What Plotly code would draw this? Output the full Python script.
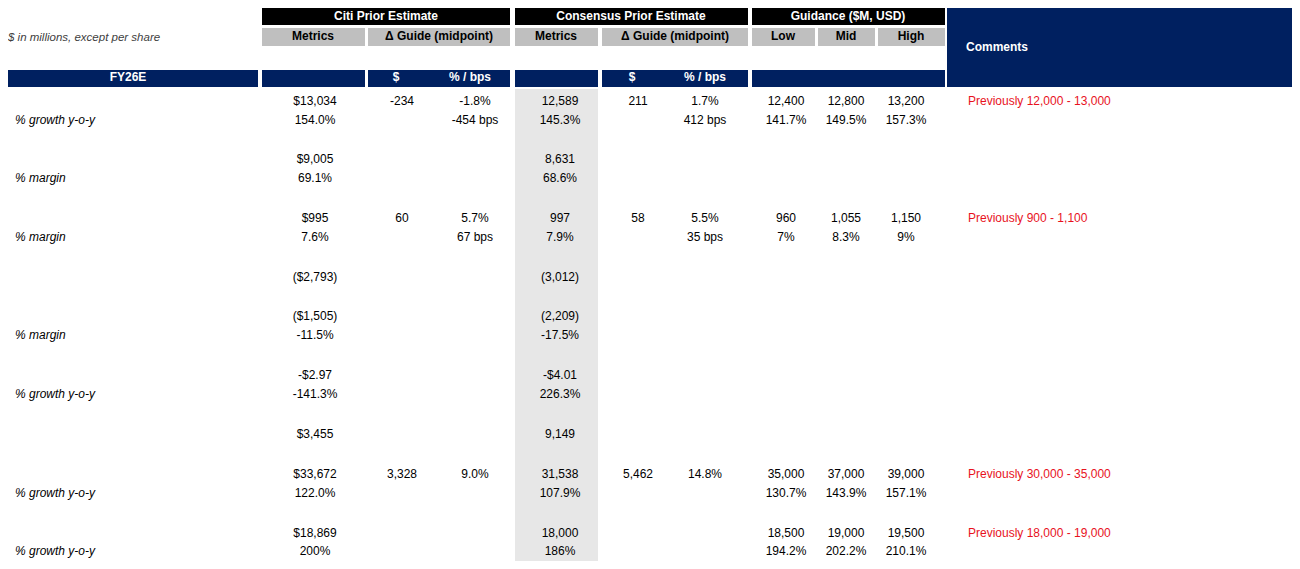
import plotly.graph_objects as go

# row labels and data columns (blank string = empty cell)
labels = ["Revenue", "% growth y-o-y", "Gross Profit", "% margin", "Adj Operating Income", "% margin",
          "Interest Expense", "Net Income", "% margin", "EPS", "% growth y-o-y", "OCF",
          "CapEx (excl CIP)", "% growth y-o-y", "ARR", "% growth y-o-y"]
is_sub = [False, True, False, True, False, True, False, False, True, False, True, False, False, True, False, True]
row_y = [102, 121, 160, 179, 219, 238, 278, 317, 336, 376, 395, 435, 475, 494, 534, 552]

citi_metrics = ["$13,034", "154.0%", "$9,005", "69.1%", "$995", "7.6%", "($2,793)", "($1,505)", "-11.5%",
                "-$2.97", "-141.3%", "$3,455", "$33,672", "122.0%", "$18,869", "200%"]
citi_d = ["-234", "", "", "", "60", "", "", "", "", "", "", "", "3,328", "", "", ""]
citi_pct = ["-1.8%", "-454 bps", "", "", "5.7%", "67 bps", "", "", "", "", "", "", "9.0%", "", "", ""]
cons_metrics = ["12,589", "145.3%", "8,631", "68.6%", "997", "7.9%", "(3,012)", "(2,209)", "-17.5%",
                "-$4.01", "226.3%", "9,149", "31,538", "107.9%", "18,000", "186%"]
cons_d = ["211", "", "", "", "58", "", "", "", "", "", "", "", "5,462", "", "", ""]
cons_pct = ["1.7%", "412 bps", "", "", "5.5%", "35 bps", "", "", "", "", "", "", "14.8%", "", "", ""]
guide_low = ["12,400", "141.7%", "", "", "960", "7%", "", "", "", "", "", "", "35,000", "130.7%", "18,500", "194.2%"]
guide_mid = ["12,800", "149.5%", "", "", "1,055", "8.3%", "", "", "", "", "", "", "37,000", "143.9%", "19,000", "202.2%"]
guide_high = ["13,200", "157.3%", "", "", "1,150", "9%", "", "", "", "", "", "", "39,000", "157.1%", "19,500", "210.1%"]
comments = ["Previously 12,000 - 13,000", "", "", "", "Previously 900 - 1,100", "", "", "", "", "", "", "",
            "Previously 30,000 - 35,000", "", "Previously 18,000 - 19,000", ""]

NAVY = "#002060"
FONT = "Liberation Sans, Arial, sans-serif"

fig = go.Figure()
shapes = []

def box(x0, x1, y0, y1, color):
    shapes.append(dict(type="rect", xref="x", yref="y", x0=x0, x1=x1, y0=y0, y1=y1,
                       fillcolor=color, line=dict(width=0), layer="below"))

# shaded consensus metrics column
box(515, 598, 89, 569, "#e7e7e7")
# top black bands
for a, b in [(262, 510), (515, 748), (752, 945)]:
    box(a, b, 8, 25, "black")
# gray sub headers
for a, b in [(262, 365), (368, 510), (515, 598), (602, 748), (752, 815), (818, 875), (878, 945)]:
    box(a, b, 28, 46, "#bfbfbf")
# navy row
for a, b in [(0, 258), (262, 365), (368, 510), (515, 598), (602, 748), (752, 945)]:
    box(a, b, 70, 87, NAVY)
box(947, 1300, 8, 87, NAVY)

def txt(xs, ys, texts, color="black", size=12, bold=False, italic=False, pos="middle center"):
    t = [("<b>%s</b>" % s if bold and s else s) for s in texts]
    t = [("<i>%s</i>" % s if italic and s else s) for s in t]
    fig.add_trace(go.Scatter(x=xs, y=ys, text=t, mode="text", textposition=pos, cliponaxis=False,
                             textfont=dict(color=color, size=size, family=FONT),
                             hoverinfo="skip", showlegend=False))

# headers
txt([386, 631, 848], [17, 17, 17], ["Citi Prior Estimate", "Consensus Prior Estimate", "Guidance ($M, USD)"], "white", 12, True)
txt([313, 439, 556, 675, 783, 846, 911], [37] * 7,
    ["Metrics", "Δ Guide (midpoint)", "Metrics", "Δ Guide (midpoint)", "Low", "Mid", "High"], "black", 12, True)
txt([8], [38], ["$ in millions, except per share"], "#404040", 11.5, italic=True, pos="middle right")
txt([128, 396, 470, 632, 705], [78] * 5, ["FY26E", "$", "% / bps", "$", "% / bps"], "white", 12, True)
txt([966], [48], ["Comments"], "white", 12, True, pos="middle right")

# row labels
main = [(l, y) for l, y, s in zip(labels, row_y, is_sub) if not s]
sub = [(l, y) for l, y, s in zip(labels, row_y, is_sub) if s]
txt([7] * len(main), [y for _, y in main], [l if l != "ARR" else "\u00a0\u00a0ARR" for l, _ in main], pos="middle right")
txt([15] * len(sub), [y for _, y in sub], [l for l, _ in sub], italic=True, pos="middle right")

# data columns
for xc, col in [(315, citi_metrics), (402, citi_d), (475, citi_pct), (560, cons_metrics), (638, cons_d),
                (705, cons_pct), (786, guide_low), (846, guide_mid), (906, guide_high)]:
    txt([xc] * len(col), row_y, col)
txt([968] * len(comments), row_y, comments, "#e8121d", pos="middle right")

# page body adds an 8px margin, so the figure is 16px smaller and the ranges are offset to match
fig.update_layout(width=1284, height=553, margin=dict(l=0, r=0, t=0, b=0),
                  paper_bgcolor="white", plot_bgcolor="white", shapes=shapes,
                  xaxis=dict(range=[8, 1292], visible=False, fixedrange=True),
                  yaxis=dict(range=[561, 8], visible=False, fixedrange=True))
fig.write_html("out.html")
